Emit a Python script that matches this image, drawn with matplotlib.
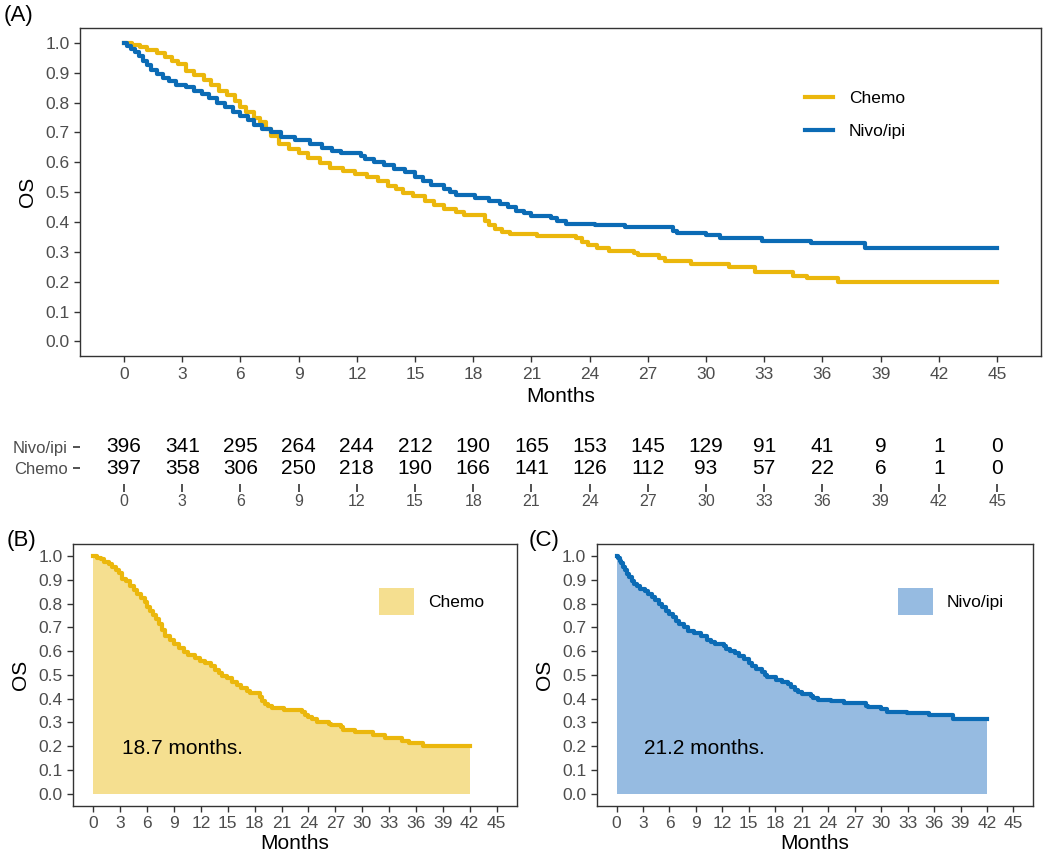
import numpy as np
import matplotlib.pyplot as plt

plt.rcParams['font.family'] = ['Liberation Sans', 'DejaVu Sans']

# number at risk table
months = [0, 3, 6, 9, 12, 15, 18, 21, 24, 27, 30, 33, 36, 39, 42, 45]
nivo_risk = [396, 341, 295, 264, 244, 212, 190, 165, 153, 145, 129, 91, 41, 9, 1, 0]
chemo_risk = [397, 358, 306, 250, 218, 190, 166, 141, 126, 112, 93, 57, 22, 6, 1, 0]

# KM steps (time in months, survival)
chemo_t = [0.0, 0.4, 0.8, 1.2, 1.7, 2.1, 2.5, 2.8, 3.2, 3.6, 4.1, 4.5, 4.9, 5.3, 5.7,
           6.0, 6.3, 6.7, 7.0, 7.3, 7.6, 8.0, 8.5, 9.0, 9.5, 10.1, 10.6, 11.3, 11.9,
           12.5, 13.1, 13.6, 14.0, 14.4, 14.9, 15.5, 16.0, 16.5, 17.1, 17.5, 18.6,
           18.8, 19.1, 19.5, 19.9, 21.3, 23.3, 23.6, 23.9, 24.4, 25.0, 26.3, 26.5,
           27.6, 27.9, 29.2, 31.2, 32.5, 34.5, 35.2, 36.8, 45.0]
chemo_s = [1.000, 0.992, 0.985, 0.975, 0.965, 0.952, 0.940, 0.930, 0.905, 0.893,
           0.875, 0.858, 0.840, 0.825, 0.805, 0.785, 0.768, 0.750, 0.735, 0.712,
           0.688, 0.662, 0.645, 0.630, 0.615, 0.598, 0.582, 0.570, 0.560, 0.550,
           0.536, 0.522, 0.510, 0.497, 0.486, 0.472, 0.458, 0.445, 0.432, 0.425,
           0.405, 0.390, 0.378, 0.368, 0.360, 0.352, 0.345, 0.333, 0.322, 0.313,
           0.303, 0.295, 0.288, 0.280, 0.270, 0.259, 0.248, 0.234, 0.220, 0.212,
           0.200, 0.200]

nivo_t = [0.0, 0.15, 0.35, 0.55, 0.75, 1.0, 1.2, 1.4, 1.7, 2.0, 2.3, 2.7, 3.2, 3.6,
          4.0, 4.4, 4.8, 5.2, 5.6, 6.0, 6.4, 6.7, 7.1, 7.6, 8.1, 8.8, 9.6, 10.2,
          10.7, 11.2, 12.2, 12.4, 12.9, 13.4, 13.9, 14.5, 15.0, 15.4, 15.8, 16.5,
          16.8, 17.1, 18.1, 18.8, 19.4, 19.8, 20.2, 20.6, 21.0, 22.0, 22.3, 22.8,
          24.3, 25.8, 28.3, 28.5, 30.0, 30.7, 32.9, 35.4, 38.2, 45.0]
nivo_s = [1.000, 0.990, 0.980, 0.970, 0.955, 0.940, 0.925, 0.910, 0.895, 0.882,
          0.872, 0.860, 0.852, 0.840, 0.828, 0.815, 0.800, 0.785, 0.768, 0.755,
          0.742, 0.725, 0.712, 0.700, 0.686, 0.675, 0.662, 0.648, 0.638, 0.630,
          0.622, 0.610, 0.600, 0.590, 0.578, 0.566, 0.550, 0.536, 0.524, 0.512,
          0.500, 0.490, 0.480, 0.470, 0.460, 0.450, 0.438, 0.430, 0.420, 0.412,
          0.404, 0.395, 0.390, 0.382, 0.370, 0.364, 0.355, 0.345, 0.338, 0.330,
          0.314, 0.314]

chemo_median = '18.7 months.'
nivo_median = '21.2 months.'

CHEMO = '#EBB70C'
NIVO = '#0B6BB5'
CHEMO_FILL = '#F5DF90'
NIVO_FILL = '#96BBE1'
GREY = '#4D4D4D'
LW = 3.0


def style(ax, fs=12.5, xpad=2):
    for sp in ax.spines.values():
        sp.set_color('#333333')
        sp.set_linewidth(1.0)
    ax.tick_params(length=4.5, width=1.0, color='#333333', labelcolor=GREY,
                   labelsize=fs, pad=3)
    ax.set_xlim(-2.25, 47.25)
    ax.set_ylim(-0.05, 1.05)
    ax.set_xticks(months)
    ax.set_yticks(np.arange(0, 1.01, 0.1))
    ax.set_yticklabels([f'{v:.1f}' for v in np.arange(0, 1.01, 0.1)])
    ax.set_xlabel('Months', fontsize=15, labelpad=xpad)
    ax.set_ylabel('OS', fontsize=15, labelpad=6)


def cut(t, s, end=42):
    t = np.array(t)
    s = np.array(s)
    keep = t < end
    return np.append(t[keep], end), np.append(s[keep], s[keep][-1])


fig = plt.figure(figsize=(10.5, 8.6), dpi=100)

# (A) both curves
axA = fig.add_axes([0.0765, 0.5857, 0.9147, 0.3817])
axA.step(chemo_t, chemo_s, where='post', color=CHEMO, lw=LW, label='Chemo')
axA.step(nivo_t, nivo_s, where='post', color=NIVO, lw=LW, label='Nivo/ipi')
style(axA, xpad=4)
axA.legend(loc='center left', bbox_to_anchor=(0.755, 0.735), frameon=False,
           fontsize=12.5, handlelength=1.6, handletextpad=0.9, labelspacing=1.0,
           borderpad=0, borderaxespad=0)
fig.text(0.003, 0.982, '(A)', fontsize=16, va='center', ha='left')

# number at risk
axR = fig.add_axes([0.0765, 0.4372, 0.9147, 0.0558])
for m, n, c in zip(months, nivo_risk, chemo_risk):
    axR.text(m, 1, str(n), ha='center', va='center', fontsize=15)
    axR.text(m, 0, str(c), ha='center', va='center', fontsize=15)
axR.set_xlim(-2.25, 47.25)
axR.set_ylim(-0.75, 1.5)
axR.set_xticks(months)
axR.set_yticks([1, 0])
axR.set_yticklabels(['Nivo/ipi', 'Chemo'])
for sp in axR.spines.values():
    sp.set_visible(False)
axR.tick_params(axis='x', length=5.5, width=1.2, color='#333333', labelcolor=GREY,
                labelsize=11.5, pad=2)
axR.tick_params(axis='y', length=5, width=1.2, color='#333333', labelcolor=GREY,
                labelsize=12, pad=4)

# (B) chemo
axB = fig.add_axes([0.0698, 0.0631, 0.4223, 0.3043])
tb, sb = cut(chemo_t, chemo_s)
axB.fill_between(tb, sb, step='post', color=CHEMO_FILL, lw=0, label='Chemo')
axB.step(tb, sb, where='post', color=CHEMO, lw=LW)
axB.text(3.2, 0.19, chemo_median, fontsize=15, va='center', ha='left')
style(axB)
axB.legend(loc='center left', bbox_to_anchor=(0.69, 0.78), frameon=False,
           fontsize=12.5, handlelength=2.0, handleheight=2.0, handletextpad=0.8,
           borderpad=0, borderaxespad=0)
fig.text(0.006, 0.372, '(B)', fontsize=16, va='center', ha='left')

# (C) nivo/ipi
axC = fig.add_axes([0.5683, 0.0631, 0.4158, 0.3043])
tc, sc = cut(nivo_t, nivo_s)
axC.fill_between(tc, sc, step='post', color=NIVO_FILL, lw=0, label='Nivo/ipi')
axC.step(tc, sc, where='post', color=NIVO, lw=LW)
axC.text(3.1, 0.19, nivo_median, fontsize=15, va='center', ha='left')
style(axC)
axC.legend(loc='center left', bbox_to_anchor=(0.69, 0.78), frameon=False,
           fontsize=12.5, handlelength=2.0, handleheight=2.0, handletextpad=0.8,
           borderpad=0, borderaxespad=0)
fig.text(0.503, 0.372, '(C)', fontsize=16, va='center', ha='left')

plt.savefig('out.png', dpi=100)
